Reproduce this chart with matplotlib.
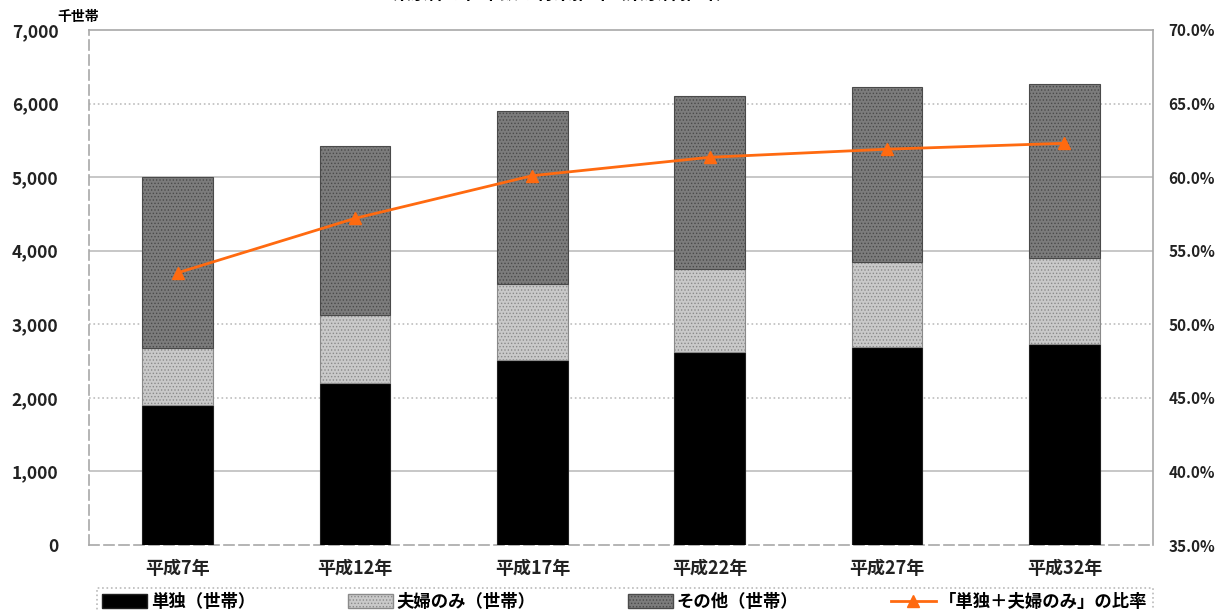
import numpy as np
import matplotlib
matplotlib.use('Agg')
import matplotlib.pyplot as plt
from matplotlib.lines import Line2D
from matplotlib.patches import Patch

plt.rcParams['font.family'] = ['Noto Sans CJK JP', 'DejaVu Sans']
plt.rcParams['hatch.linewidth'] = 0.6

# data (thousand households / share in %)
years = ['平成7年', '平成12年', '平成17年', '平成22年', '平成27年', '平成32年']
single = [1900, 2205, 2510, 2630, 2690, 2730]
couple = [780, 920, 1040, 1120, 1150, 1170]
others = [2320, 2305, 2350, 2350, 2380, 2360]
ratio = [53.5, 57.2, 60.1, 61.35, 61.9, 62.3]

series_names = ['単独（世帯）', '夫婦のみ（世帯）', 'その他（世帯）']
line_name = '「単独＋夫婦のみ」の比率'

fig = plt.figure(figsize=(12.25, 6.1), dpi=100)
ax = fig.add_axes([89 / 1225, 65 / 610, 1064 / 1225, 515 / 610])

x = np.arange(len(years))
w = 0.40
single = np.array(single)
couple = np.array(couple)
others = np.array(others)

ax.bar(x, single, w, color='black', edgecolor='#202020', linewidth=0.8, zorder=3)
ax.bar(x, couple, w, bottom=single, color='#c9c9c9', edgecolor='#8a8a8a',
       hatch='.....', linewidth=0.8, zorder=3)
ax.bar(x, others, w, bottom=single + couple, color='#7c7c7c', edgecolor='#4a4a4a',
       hatch='.....', linewidth=0.8, zorder=3)

ax.set_xlim(-0.5, len(years) - 0.5)
ax.set_ylim(0, 7000)
ax.set_yticks(range(0, 7001, 1000))
ax.set_yticklabels(['0', '1,000', '2,000', '3,000', '4,000', '5,000', '6,000', '7,000'])
ax.set_xticks(x)
ax.set_xticklabels(years)

# grid lines, some solid some dotted like the original
grid_styles = {1000: '-', 2000: ':', 3000: ':', 4000: '-', 5000: '-', 6000: ':'}
for lvl, ls in grid_styles.items():
    ax.axhline(lvl, color='#bdbdbd', linewidth=1.2, linestyle=ls, zorder=1)

for s in ['top', 'right']:
    ax.spines[s].set_color('#a8a8a8')
    ax.spines[s].set_linewidth(1.2)
for s in ['left', 'bottom']:
    ax.spines[s].set_color('#a8a8a8')
    ax.spines[s].set_linewidth(1.2)
    ax.spines[s].set_linestyle((0, (6, 3)))

ax.tick_params(axis='y', length=0, labelsize=12.5, pad=22)
ax.tick_params(axis='x', length=0, labelsize=13, pad=10)
for t in ax.get_yticklabels() + ax.get_xticklabels():
    t.set_fontweight('bold')
    t.set_color('#222222')

ax2 = ax.twinx()
ax2.plot(x, ratio, color='#ff6a10', linewidth=2, marker='^', markersize=8, zorder=5)
ax2.set_ylim(35, 70)
ax2.set_yticks(np.arange(35, 70.1, 5))
ax2.set_yticklabels(['%.1f%%' % v for v in np.arange(35, 70.1, 5)])
ax2.tick_params(axis='y', length=0, labelsize=11, pad=11)
for t in ax2.get_yticklabels():
    t.set_fontweight('bold')
    t.set_color('#222222')
for s in ax2.spines.values():
    s.set_visible(False)

# unit label
fig.text(57 / 1225, 1 - 17 / 610, '千世帯', fontsize=10, fontweight='bold', va='center')

# title, cut by the top border in the original
fig.text(0.46, 1 + 7 / 610, '東京都の世帯数の将来推計（東京都推計）', fontsize=13,
         fontweight='bold', ha='center', va='center')

handles = [Patch(facecolor='black', edgecolor='#202020'),
           Patch(facecolor='#c9c9c9', edgecolor='#8a8a8a', hatch='.....'),
           Patch(facecolor='#7c7c7c', edgecolor='#4a4a4a', hatch='.....'),
           Line2D([0], [0], color='#ff6a10', linewidth=2, marker='^', markersize=8)]
leg = fig.legend(handles, series_names + [line_name], ncol=4, loc='upper left',
                 bbox_to_anchor=(97 / 1225, -0.1, 1056 / 1225, 0.1 + 22 / 610),
                 mode='expand', fontsize=12.5, frameon=True, fancybox=False,
                 handlelength=2.6, handleheight=0.9, handletextpad=0.2,
                 borderpad=0.3, borderaxespad=0)
leg.get_frame().set_edgecolor('#a8a8a8')
leg.get_frame().set_linestyle(':')
leg.get_frame().set_linewidth(1.2)
for t in leg.get_texts():
    t.set_fontweight('bold')

fig.savefig('out.png', dpi=100)
